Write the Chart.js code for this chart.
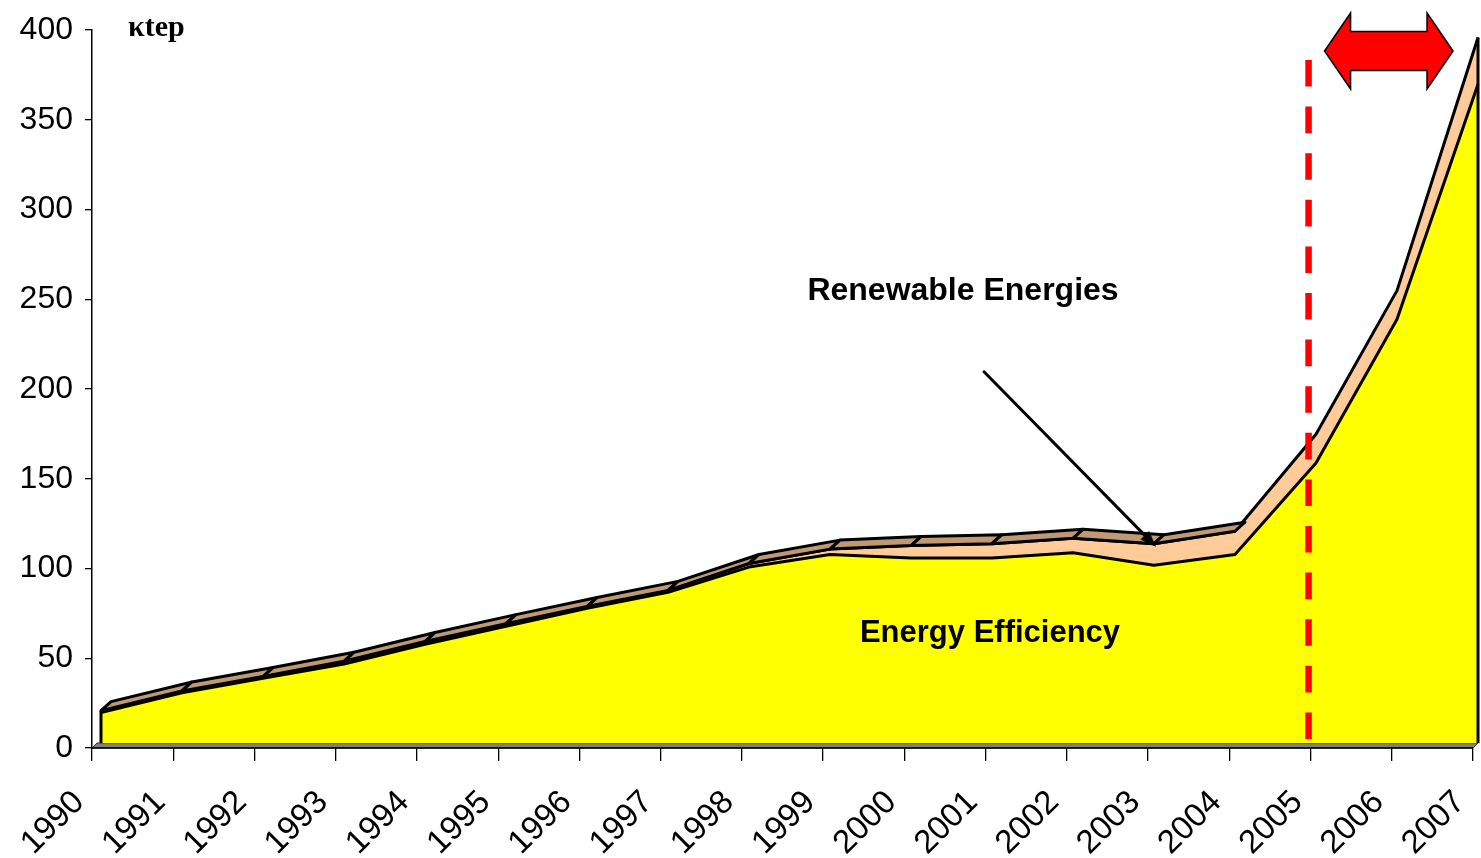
<!DOCTYPE html>
<html>
<head>
<meta charset="utf-8">
<script src="https://cdn.jsdelivr.net/npm/chart.js@4.4.1/dist/chart.umd.min.js"></script>
<style>
html,body{margin:0;padding:0;background:#fff;overflow:hidden}
#wrap{width:1481px;height:858px;position:relative}
</style>
</head>
<body>
<div id="wrap"><canvas id="c" width="1481" height="858"></canvas></div>
<script>
// ---- data ----
const years = ['1990','1991','1992','1993','1994','1995','1996','1997','1998','1999','2000','2001','2002','2003','2004','2005','2006','2007'];
const yearValues = [1990,1991,1992,1993,1994,1995,1996,1997,1998,1999,2000,2001,2002,2003,2004,2005,2006,2007];
const energyEfficiency = [17, 28, 36, 44, 55, 65, 75, 84, 98, 105, 103, 103, 106, 99, 105, 156, 236, 367];
const renewableEnergies = [1, 1, 1, 1.5, 1.5, 1.5, 1, 1, 2, 3, 7, 8, 8, 12, 13, 16, 16, 26];
const yTicks = [0, 50, 100, 150, 200, 250, 300, 350, 400];
const unitLabel = 'κtep';
const seriesNames = ['Energy Efficiency', 'Renewable Energies'];

const FONT = 'Liberation Sans, Arial, sans-serif';
const DEPTH = {dx: 10, dy: -9};
const LW = 3;

const depthPlugin = {
  id: 'depth3d',
  beforeDatasetsDraw(chart) {
    const ctx = chart.ctx;
    const y = chart.scales.y, yd = chart.scales.yd, ca = chart.chartArea, xt = chart.scales.xt;
    const b = y.getPixelForValue(0), t = yd.getPixelForValue(0);
    const l = ca.left, r = xt.getPixelForValue(yearValues[yearValues.length - 1]);
    const sh = b - t;
    ctx.save();
    ctx.beginPath();
    ctx.moveTo(l, b); ctx.lineTo(r, b); ctx.lineTo(r + sh, t); ctx.lineTo(l + sh, t); ctx.closePath();
    ctx.fillStyle = '#808080'; ctx.fill();
    ctx.strokeStyle = '#333'; ctx.lineWidth = 1; ctx.stroke();
    ctx.beginPath(); ctx.moveTo(l, b); ctx.lineTo(r, b);
    ctx.strokeStyle = '#000'; ctx.lineWidth = 1.5; ctx.stroke();
    ctx.restore();
  },
  afterDatasetsDraw(chart) {
    const ctx = chart.ctx;
    const top = chart.getDatasetMeta(1).data;
    const yd = chart.scales.yd;
    const zero = yd.getPixelForValue(0);
    ctx.save();
    ctx.lineJoin = 'round';
    ctx.lineWidth = LW;
    ctx.strokeStyle = '#000';
    ctx.fillStyle = '#BF9973';
    for (let i = 0; i < top.length - 1; i++) {
      const a = top[i], c = top[i + 1];
      const vx = c.x - a.x, vy = c.y - a.y;
      const cross = vx * DEPTH.dy - vy * DEPTH.dx;
      if (cross >= 0) continue; // top face hidden behind front face
      ctx.beginPath();
      ctx.moveTo(a.x, a.y);
      ctx.lineTo(c.x, c.y);
      ctx.lineTo(c.x + DEPTH.dx, c.y + DEPTH.dy);
      ctx.lineTo(a.x + DEPTH.dx, a.y + DEPTH.dy);
      ctx.closePath();
      ctx.fill();
      ctx.stroke();
    }
    // front vertical edges
    const f = top[0], e = top[top.length - 1];
    ctx.beginPath();
    ctx.moveTo(f.x, zero); ctx.lineTo(f.x, f.y);
    ctx.moveTo(e.x, zero); ctx.lineTo(e.x, e.y);
    ctx.stroke();
    ctx.restore();
  },
  afterDraw(chart) {
    const ctx = chart.ctx;
    const y = chart.scales.y, xt = chart.scales.xt;
    const top = chart.getDatasetMeta(1).data;
    ctx.save();
    // unit label
    ctx.fillStyle = '#000';
    ctx.font = 'bold 30px "Liberation Serif", "Times New Roman", serif';
    ctx.textAlign = 'left'; ctx.textBaseline = 'alphabetic';
    ctx.fillText(unitLabel, 128, 36);
    // series labels
    ctx.textAlign = 'center';
    ctx.font = 'bold 32px ' + FONT;
    ctx.fillText(seriesNames[1], 963, 300);
    ctx.font = 'bold 31px ' + FONT;
    ctx.fillText(seriesNames[0], 990, 642);
    // pointer arrow to renewable band (2003)
    const tip = {x: top[13].x + 2, y: top[13].y + 3};
    const st = {x: tip.x - 172, y: tip.y - 175};
    const ang = Math.atan2(tip.y - st.y, tip.x - st.x);
    ctx.strokeStyle = '#000'; ctx.lineWidth = 3; ctx.lineCap = 'round';
    ctx.beginPath(); ctx.moveTo(st.x, st.y);
    ctx.lineTo(tip.x - 10 * Math.cos(ang), tip.y - 10 * Math.sin(ang)); ctx.stroke();
    ctx.beginPath();
    ctx.moveTo(tip.x, tip.y);
    ctx.lineTo(tip.x - 16 * Math.cos(ang) + 6 * Math.sin(ang), tip.y - 16 * Math.sin(ang) - 6 * Math.cos(ang));
    ctx.lineTo(tip.x - 16 * Math.cos(ang) - 6 * Math.sin(ang), tip.y - 16 * Math.sin(ang) + 6 * Math.cos(ang));
    ctx.closePath(); ctx.fillStyle = '#000'; ctx.fill();
    // red dashed line at 2005
    const xd = xt.getPixelForValue(2005) - 2;
    ctx.beginPath();
    ctx.setLineDash([26.6, 20]);
    ctx.lineCap = 'butt';
    ctx.strokeStyle = '#FF0000'; ctx.lineWidth = 6.5;
    ctx.moveTo(xd, y.getPixelForValue(383.3));
    ctx.lineTo(xd, y.getPixelForValue(4.5));
    ctx.stroke();
    ctx.setLineDash([]);
    // red double arrow
    const cy = y.getPixelForValue(388.3);
    const xl = xt.getPixelForValue(2005) + 14, xr = xt.getPixelForValue(2007) - 20;
    const hl = 26, hh = 38, sh = 19.5;
    ctx.beginPath();
    ctx.moveTo(xl, cy);
    ctx.lineTo(xl + hl, cy - hh);
    ctx.lineTo(xl + hl, cy - sh);
    ctx.lineTo(xr - hl, cy - sh);
    ctx.lineTo(xr - hl, cy - hh);
    ctx.lineTo(xr, cy);
    ctx.lineTo(xr - hl, cy + hh);
    ctx.lineTo(xr - hl, cy + sh);
    ctx.lineTo(xl + hl, cy + sh);
    ctx.lineTo(xl + hl, cy + hh);
    ctx.closePath();
    ctx.fillStyle = '#FF0000'; ctx.fill();
    ctx.lineJoin = 'miter'; ctx.strokeStyle = '#000'; ctx.lineWidth = 1.5; ctx.stroke();
    ctx.restore();
  }
};

const toPts = arr => arr.map((v, i) => ({x: yearValues[i], y: v}));

new Chart(document.getElementById('c'), {
  type: 'line',
  data: {
    datasets: [
      {label: seriesNames[0], data: toPts(energyEfficiency), xAxisID: 'x', yAxisID: 'yd',
       backgroundColor: '#FFFF00', borderColor: '#000', borderWidth: LW, fill: 'origin', clip: false},
      {label: seriesNames[1], data: toPts(renewableEnergies), xAxisID: 'x', yAxisID: 'yd',
       backgroundColor: '#FFCC99', borderColor: '#000', borderWidth: LW, fill: '-1', clip: false}
    ]
  },
  options: {
    responsive: false,
    animation: false,
    devicePixelRatio: 1,
    layout: {padding: {top: 30, right: 0, left: 0, bottom: 0}},
    plugins: {legend: {display: false}, tooltip: {enabled: false}},
    elements: {line: {tension: 0, borderJoinStyle: 'round'}, point: {radius: 0}},
    scales: {
      x: {type: 'linear', display: false, min: 1989.889, max: 2007.037},
      yd: {type: 'linear', display: false, stacked: true, min: -2.8, max: 397.2},
      xt: {
        type: 'linear', position: 'bottom', min: 1990, max: 2007.098,
        afterBuildTicks: s => { s.ticks = yearValues.map(v => ({value: v})); },
        grid: {display: true, drawOnChartArea: false, tickLength: 13, color: '#000', lineWidth: 1.3},
        border: {display: false},
        ticks: {autoSkip: false, maxRotation: 45, minRotation: 45, labelOffset: -13, padding: 22,
                color: '#000', font: {family: FONT, size: 33},
                callback: (v, i) => years[i]},
        afterFit: s => { s.height = 110; s.paddingLeft = 0; s.paddingRight = 0; }
      },
      y: {
        type: 'linear', position: 'left', min: 0, max: 400,
        afterBuildTicks: s => { s.ticks = yTicks.map(v => ({value: v})); },
        grid: {display: true, drawOnChartArea: false, tickLength: 7, color: '#000', lineWidth: 1.3},
        border: {display: true, color: '#000', width: 1.5},
        ticks: {padding: 12, color: '#000', font: {family: FONT, size: 32}},
        afterFit: s => { s.width = 92; s.paddingTop = 0; s.paddingBottom = 0; }
      }
    }
  },
  plugins: [depthPlugin]
});
</script>
</body>
</html>
